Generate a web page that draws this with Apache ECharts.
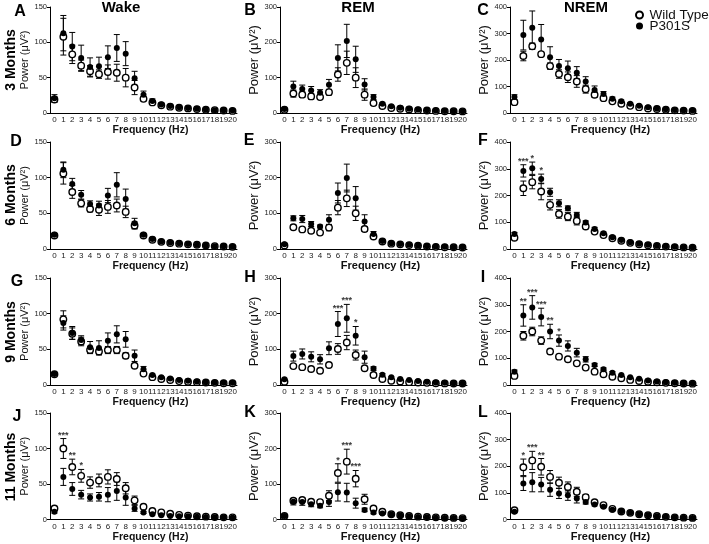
<!DOCTYPE html>
<html><head><meta charset="utf-8">
<script src="https://cdn.jsdelivr.net/npm/echarts@6/dist/echarts.min.js"></script>
<style>html,body{margin:0;padding:0;background:#fff}#c{width:709px;height:544px}</style>
</head><body><div id="c"></div>
<script>
const freqLabels = ['0','1','2','3','4','5','6','7','8','9','10','11','12','13','14','15','16','17','18','19','20'];
const stateTitles = ['Wake', 'REM', 'NREM'];
const ageLabels = ['3 Months', '6 Months', '9 Months', '11 Months'];
const panelLetters = ['A','B','C','D','E','F','G','H','I','J','K','L'];
const yMaxByState = [150, 300, 400];
const yStepByState = [50, 100, 100];

// A: Wake, 3 months
const A_wt    = [19, 108, 83, 67, 59, 55, 58, 57, 50, 36, 20, 15, 11, 9, 7.5, 6.5, 5.5, 4.5, 4, 3.5, 3];
const A_wtErr = [4, 26, 13, 8, 8, 6, 10, 12, 13, 10, 3, 2, 1.5, 1, 1, 1, 0.8, 0.7, 0.6, 0.5, 0.5];
const A_tg    = [21, 113, 94, 78, 65, 66, 79, 92, 84, 49, 26, 17, 12, 10, 8, 7, 6, 5, 4, 4, 3.5];
const A_tgErr = [5, 25, 20, 18, 13, 13, 16, 19, 17, 10, 5, 3, 2, 1.5, 1, 1, 1, 0.8, 0.7, 0.6, 0.5];
const A_sig   = [];
// B: REM, 3 months
const B_wt    = [9, 55, 52, 47, 45, 59, 109, 142, 100, 52, 28, 20, 14, 12, 10, 8, 7, 6, 5, 5, 4.5];
const B_wtErr = [3, 10, 8, 8, 6, 8, 19, 33, 28, 16, 6, 4, 3, 2, 2, 1.5, 1, 1, 1, 1, 1];
const B_tg    = [11, 75, 68, 64, 57, 80, 156, 204, 152, 81, 45, 26, 19, 15, 12, 10, 8, 7, 6, 5, 5];
const B_tgErr = [3, 15, 11, 11, 9, 15, 37, 47, 37, 16, 7, 4, 3, 2, 2, 1.5, 1, 1, 1, 1, 1];
const B_sig   = [];
// C: NREM, 3 months
const C_wt    = [41, 215, 252, 222, 177, 147, 135, 119, 90, 69, 56, 44, 35, 27, 22, 17, 15, 12, 10, 9, 8];
const C_wtErr = [7, 18, 12, 7, 12, 16, 20, 22, 15, 10, 7, 5, 4, 3, 2, 2, 2, 1, 1, 1, 1];
const C_tg    = [60, 294, 322, 277, 210, 177, 169, 152, 119, 87, 72, 54, 44, 35, 27, 22, 17, 14, 11, 10, 9];
const C_tgErr = [9, 56, 63, 57, 40, 25, 27, 23, 18, 15, 9, 6, 5, 4, 3, 2, 2, 1.5, 1, 1, 1];
const C_sig   = [];
// D: Wake, 6 months
const D_wt    = [19, 106, 80, 64, 56, 55, 59, 61, 52, 33, 19, 13, 10, 8.5, 7.5, 6.5, 6, 5, 4, 3.5, 3];
const D_wtErr = [1.5, 15, 9, 5, 4, 8, 9, 9, 8, 5, 1.5, 1, 1, 0.8, 0.7, 0.6, 0.5, 0.5, 0.4, 0.4, 0.3];
const D_tg    = [20, 111, 91, 76, 63, 61, 75, 90, 70, 36, 20, 14, 10.5, 9, 8, 7, 6, 5, 4, 4, 3];
const D_tgErr = [1.5, 11, 8, 6, 4.5, 6, 10, 17, 14, 7, 1.5, 1, 1, 0.8, 0.7, 0.6, 0.5, 0.5, 0.4, 0.4, 0.3];
const D_sig   = [];
// E: REM, 6 months
const E_wt    = [10, 61, 55, 51, 46, 60, 116, 142, 100, 56, 35, 21, 15, 13, 11, 9, 7, 6, 5, 5, 4];
const E_wtErr = [2, 6, 4, 4, 3, 9, 20, 23, 20, 7, 4, 2, 1.5, 1.5, 1, 1, 1, 0.8, 0.7, 0.6, 0.5];
const E_tg    = [13, 86, 84, 70, 63, 82, 157, 199, 142, 77, 42, 22.5, 16, 14, 12, 10, 8, 7, 6, 5, 5];
const E_tgErr = [3, 7, 10, 7, 4, 14, 28, 39, 33, 19, 7, 3, 2, 1.5, 1, 1, 1, 0.8, 0.7, 0.6, 0.5];
const E_sig   = [];
// F: NREM, 6 months
const F_wt    = [42, 227, 250, 215, 165, 131, 121, 105, 84, 65, 52, 40, 31, 23, 18, 14, 11, 9, 7, 6, 5];
const F_wtErr = [5, 27, 25, 31, 19, 16, 15, 15, 8, 6, 5, 4, 3, 2, 2, 1.5, 1, 1, 1, 0.8, 0.7];
const F_tg    = [56, 292, 302, 262, 212, 171, 152, 127, 99, 75, 59, 44, 34, 25, 20, 16, 12, 10, 8, 7, 6];
const F_tgErr = [6, 23, 23, 18, 15, 13, 9, 10, 6, 6, 5, 4, 3, 2, 2, 1.5, 1, 1, 1, 0.8, 0.7];
const F_sig   = [[1, '***'], [2, '*'], [3, '*']];
// G: Wake, 9 months
const G_wt    = [15, 92, 72, 61, 49, 47, 49, 49, 41, 27, 16, 11, 8.5, 7, 5.5, 4.5, 4, 3.5, 3, 2.5, 2.5];
const G_wtErr = [1.5, 12, 8, 6, 5, 4, 5, 5, 4, 2, 1.5, 1, 0.8, 0.7, 0.5, 0.5, 0.4, 0.4, 0.3, 0.3, 0.3];
const G_tg    = [15.5, 87, 73, 63, 53, 52, 62, 71, 64, 41, 22, 14, 11, 9, 7, 6, 5, 4, 3.5, 3, 3];
const G_tgErr = [1.5, 10, 9, 6, 8, 10, 11, 12, 11, 8, 4, 1.5, 1, 1, 0.8, 0.7, 0.5, 0.5, 0.4, 0.4, 0.3];
const G_sig   = [];
// H: REM, 9 months
const H_wt    = [9, 53, 50, 45, 40, 56, 101, 119, 84, 47, 28, 17, 12, 10, 8, 7, 6, 5, 4.5, 4, 4];
const H_wtErr = [2, 4, 3, 3, 3, 6, 15, 20, 14, 4, 3, 2, 1.5, 1, 1, 1, 0.8, 0.7, 0.6, 0.5, 0.5];
const H_tg    = [16, 81, 87, 79, 72, 103, 171, 187, 138, 78, 46, 29, 21.5, 17, 14, 11, 9, 7, 6, 5, 4.5];
const H_tgErr = [3, 14, 14, 14, 13, 18, 35, 39, 26, 17, 5, 3, 2, 2, 1.5, 1, 1, 1, 0.8, 0.7, 0.6];
const H_sig   = [[6, '***'], [7, '***'], [8, '*']];
// I: NREM, 9 months
const I_wt    = [34, 184, 200, 166, 125, 106, 96, 81, 65, 50, 40, 31, 25, 19, 15, 12, 10, 8, 6.5, 5.5, 5];
const I_wtErr = [5, 16, 16, 14, 8, 5, 5, 5, 4, 4, 3, 2, 2, 1.5, 1, 1, 1, 0.8, 0.7, 0.6, 0.5];
const I_tg    = [50, 260, 290, 254, 200, 166, 146, 121, 96, 75, 59, 46, 37, 29, 23, 17, 13, 10, 8, 7, 6];
const I_tgErr = [6, 40, 44, 33, 27, 21, 19, 16, 10, 6, 5, 4, 3, 2, 2, 1.5, 1, 1, 1, 0.8, 0.7];
const I_sig   = [[1, '**'], [2, '***'], [3, '***'], [4, '**'], [5, '*']];
// J: Wake, 11 months
const J_wt    = [15.5, 100, 74, 61.5, 52, 55, 60, 57, 44, 27, 18, 12, 10, 8, 6.5, 5.5, 4.5, 4, 3.5, 3, 3];
const J_wtErr = [3, 14, 11, 9, 8, 9, 10, 9, 8, 6, 2, 1.5, 1, 1, 0.8, 0.7, 0.6, 0.5, 0.4, 0.4, 0.4];
const J_tg    = [11, 60, 43, 35, 31, 32, 35, 40, 31, 15.5, 10, 7.5, 6, 5, 4.5, 4.5, 4, 3.5, 3, 3, 2.5];
const J_tgErr = [2, 12, 9, 6, 5, 6, 10, 13, 11, 4, 1.5, 1, 1, 0.8, 0.6, 0.6, 0.5, 0.5, 0.4, 0.4, 0.3];
const J_sig   = [[1, '***'], [2, '**'], [3, '*']];
// K: REM, 11 months
const K_wt    = [10, 53, 55, 50, 49, 67, 131, 163, 115, 57, 31, 22, 15, 12, 10, 8, 7, 6, 5, 4.5, 4];
const K_wtErr = [2, 6, 6, 5, 5, 14, 26, 35, 23, 14, 5, 3, 2, 1.5, 1, 1, 1, 0.8, 0.7, 0.6, 0.5];
const K_tg    = [10, 50, 49, 43, 39, 49, 77, 76, 46, 27, 20, 17, 14, 11, 9, 7, 6, 5, 4.5, 4, 3.5];
const K_tgErr = [2, 9, 9, 7, 6, 12, 25, 26, 14, 5, 4, 3, 2, 1.5, 1, 1, 1, 0.8, 0.7, 0.6, 0.5];
const K_sig   = [[6, '*'], [7, '***'], [8, '***']];
// L: NREM, 11 months
const L_wt    = [35, 196, 222, 198, 160, 138, 122, 104, 84, 65, 54, 40, 30, 25, 20, 16, 13, 10, 8, 7, 6];
const L_wtErr = [5, 31, 34, 31, 24, 21, 19, 17, 10, 6, 5, 4, 3, 2, 2, 1.5, 1, 1, 1, 0.8, 0.7];
const L_tg    = [29, 135, 140, 131, 112, 98, 91, 79, 66, 56, 48, 37, 31, 25, 20, 16, 12, 10, 8, 7, 6];
const L_tgErr = [4, 26, 36, 27, 25, 19, 19, 17, 8, 5, 4, 3, 3, 2, 2, 1.5, 1, 1, 1, 0.8, 0.7];
const L_sig   = [[1, '*'], [2, '***'], [3, '**']];

const panels = [
  [A_wt, A_wtErr, A_tg, A_tgErr, A_sig], [B_wt, B_wtErr, B_tg, B_tgErr, B_sig], [C_wt, C_wtErr, C_tg, C_tgErr, C_sig],
  [D_wt, D_wtErr, D_tg, D_tgErr, D_sig], [E_wt, E_wtErr, E_tg, E_tgErr, E_sig], [F_wt, F_wtErr, F_tg, F_tgErr, F_sig],
  [G_wt, G_wtErr, G_tg, G_tgErr, G_sig], [H_wt, H_wtErr, H_tg, H_tgErr, H_sig], [I_wt, I_wtErr, I_tg, I_tgErr, I_sig],
  [J_wt, J_wtErr, J_tg, J_tgErr, J_sig], [K_wt, K_wtErr, K_tg, K_tgErr, K_sig], [L_wt, L_wtErr, L_tg, L_tgErr, L_sig]
];

const FONT = '"Liberation Sans", Arial, sans-serif';
const colLeft = [50, 280, 510];
const plotW = 187;
const rowTop = [7, 142, 278, 413];
const rowH = [106, 107, 107, 106.5];

const grids = [], xAxes = [], yAxes = [], series = [];

function errRender(params, api) {
  const x = api.value(0), y = api.value(1), e = api.value(2);
  const t = api.coord([x, y + e]);
  const b = api.coord([x, Math.max(0, y - e)]);
  const cw = 3;
  const st = { stroke: '#000', lineWidth: 1 };
  return { type: 'group', children: [
    { type: 'line', shape: { x1: t[0], y1: t[1], x2: b[0], y2: b[1] }, style: st },
    { type: 'line', shape: { x1: t[0] - cw, y1: t[1], x2: t[0] + cw, y2: t[1] }, style: st },
    { type: 'line', shape: { x1: b[0] - cw, y1: b[1], x2: b[0] + cw, y2: b[1] }, style: st }
  ]};
}

panels.forEach((p, i) => {
  const r = Math.floor(i / 3), c = i % 3;
  const [wt, wtErr, tg, tgErr, sig] = p;
  grids.push({ left: colLeft[c], top: rowTop[r], width: plotW, height: rowH[r] });
  xAxes.push({
    type: 'category', gridIndex: i, data: freqLabels, boundaryGap: true,
    axisLine: { lineStyle: { color: '#000', width: 1 } },
    axisTick: { alignWithLabel: true, length: 3, lineStyle: { color: '#000' } },
    axisLabel: { interval: 0, fontSize: 8, color: '#222', margin: 3, fontFamily: FONT },
    splitLine: { show: false },
    name: 'Frequency (Hz)', nameLocation: 'middle', nameGap: 10,
    nameTextStyle: { fontSize: c === 0 ? 10.5 : 11, fontWeight: 'bold', color: '#111', fontFamily: FONT, padding: [0, 0, 0, 14] }
  });
  yAxes.push({
    type: 'value', gridIndex: i, min: 0, max: yMaxByState[c], interval: yStepByState[c],
    axisLine: { show: true, lineStyle: { color: '#000', width: 1 } },
    axisTick: { show: true, length: 3, lineStyle: { color: '#000' } },
    axisLabel: { fontSize: 7.5, color: '#222', margin: 3, fontFamily: FONT },
    splitLine: { show: false },
    name: 'Power (μV²)', nameLocation: 'middle', nameGap: 18,
    nameTextStyle: { fontSize: c === 0 ? 11 : 13, color: '#111', fontFamily: FONT }
  });
  const errData = [];
  wt.forEach((v, k) => errData.push([k, v, wtErr[k]]));
  tg.forEach((v, k) => errData.push([k, v, tgErr[k]]));
  series.push({
    type: 'custom', name: 'err', xAxisIndex: i, yAxisIndex: i, renderItem: errRender,
    encode: { x: 0, y: 1 }, data: errData, z: 2, silent: true
  });
  series.push({
    type: 'scatter', name: 'Wild Type', xAxisIndex: i, yAxisIndex: i, symbol: 'circle', symbolSize: 6.5,
    itemStyle: { color: '#fff', borderColor: '#000', borderWidth: 1.4, opacity: 1 },
    data: wt.map((v, k) => [k, v]), z: 3
  });
  series.push({
    type: 'scatter', name: 'P301S', xAxisIndex: i, yAxisIndex: i, symbol: 'circle', symbolSize: 6,
    itemStyle: { color: '#000', opacity: 1 },
    data: tg.map((v, k) => [k, v]), z: 4
  });
  if (sig.length) {
    series.push({
      type: 'scatter', name: 'sig', xAxisIndex: i, yAxisIndex: i, symbolSize: 0, silent: true,
      data: sig.map(([k, t]) => ({ value: [k, Math.max(wt[k] + wtErr[k], tg[k] + tgErr[k])], name: t })),
      label: { show: true, position: 'top', distance: -1, formatter: '{b}', fontSize: 9, fontWeight: 'bold', color: '#000', fontFamily: FONT },
      z: 5
    });
  }
});

const graphics = [];
const titleX = [121, 358, 586];
stateTitles.forEach((t, c) => graphics.push({ type: 'text', x: titleX[c], y: 8, style: { text: t, font: 'bold 15px ' + FONT, fill: '#000', textAlign: 'center', textVerticalAlign: 'middle' } }));
const letterPos = [[20,12],[250,11],[483,11],[16,142],[249,141],[483,141],[17,282],[250,278],[483,278],[17,417],[250,413],[483,413]];
panelLetters.forEach((L, i) => graphics.push({ type: 'text', x: letterPos[i][0], y: letterPos[i][1], style: { text: L, font: 'bold 16px ' + FONT, fill: '#000', textAlign: 'center', textVerticalAlign: 'middle' } }));
const ageY = [60, 195, 332, 467];
ageLabels.forEach((t, r) => graphics.push({ type: 'text', x: 11, y: ageY[r], rotation: Math.PI / 2, style: { text: t, font: 'bold 14px ' + FONT, fill: '#000', textAlign: 'center', textVerticalAlign: 'middle' } }));

const chart = echarts.init(document.getElementById('c'), null, { renderer: 'canvas' });
chart.setOption({
  animation: false,
  backgroundColor: '#fff',
  textStyle: { fontFamily: FONT },
  legend: {
    data: ['Wild Type', 'P301S'], orient: 'vertical', left: 630, top: 3,
    itemWidth: 10, itemHeight: 7, itemGap: -3, selectedMode: false,
    textStyle: { fontSize: 13.5, color: '#111', fontFamily: FONT }
  },
  grid: grids, xAxis: xAxes, yAxis: yAxes, series: series, graphic: graphics
});
</script></body></html>
